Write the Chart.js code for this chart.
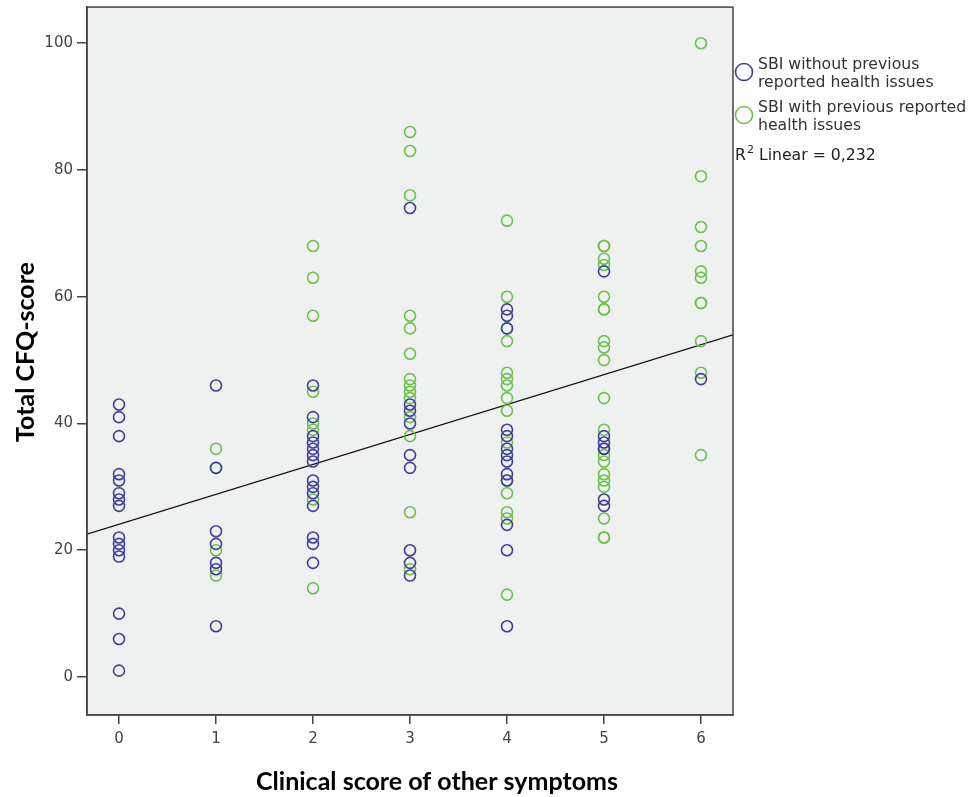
<!DOCTYPE html>
<html lang="en">
<head>
  <meta charset="UTF-8">
  <title>CFQ score vs clinical score</title>
  <style>
    html, body { margin: 0; padding: 0; background: #fff; }
    #wrap { width: 972px; height: 797px; }
  </style>
</head>
<body>
  <div id="wrap"><canvas id="chart"></canvas></div>

  <script src="https://cdn.jsdelivr.net/npm/chart.js@4"></script>
  <script>
    // values
    const xTicks = [0, 1, 2, 3, 4, 5, 6];
    const yTicks = [0, 20, 40, 60, 80, 100];

    // SBI without previous reported health issues (blue)
    const withoutX = [
      0, 0, 0, 0, 0, 0, 0, 0, 0, 0, 0, 0, 0, 0, 0,
      1, 1, 1, 1, 1, 1, 1,
      2, 2, 2, 2, 2, 2, 2, 2, 2, 2, 2, 2, 2, 2,
      3, 3, 3, 3, 3, 3, 3, 3, 3,
      4, 4, 4, 4, 4, 4, 4, 4, 4, 4, 4, 4, 4,
      5, 5, 5, 5, 5, 5, 5,
      6
    ];
    const withoutY = [
      43, 41, 38, 32, 31, 29, 28, 27, 22, 21, 20, 19, 10, 6, 1,
      46, 33, 23, 21, 18, 17, 8,
      46, 41, 38, 37, 36, 35, 34, 31, 30, 29, 27, 22, 21, 18,
      74, 43, 42, 40, 35, 33, 20, 18, 16,
      58, 57, 55, 39, 38, 36, 35, 34, 32, 24, 20, 8, 31,
      64, 38, 37, 36, 36, 28, 27,
      47
    ];

    // SBI with previous reported health issues (green)
    const withX = [
      1, 1, 1, 1,
      2, 2, 2, 2, 2, 2, 2, 2,
      3, 3, 3, 3, 3, 3, 3, 3, 3, 3, 3, 3, 3, 3,
      4, 4, 4, 4, 4, 4, 4, 4, 4, 4, 4, 4, 4, 4, 4,
      5, 5, 5, 5, 5, 5, 5, 5, 5, 5, 5, 5, 5, 5, 5, 5, 5, 5, 5, 5,
      6, 6, 6, 6, 6, 6, 6, 6, 6, 6, 6
    ];
    const withY = [
      36, 33, 20, 16,
      68, 63, 57, 45, 40, 39, 28, 14,
      86, 83, 76, 57, 55, 51, 47, 46, 45, 44, 41, 38, 26, 17,
      72, 60, 55, 53, 48, 47, 46, 44, 42, 37, 31, 29, 26, 25, 13,
      68, 68, 66, 65, 60, 58, 58, 53, 52, 50, 44, 39, 35, 34, 32, 31, 30, 25, 22, 22,
      100, 79, 71, 68, 64, 63, 59, 59, 53, 48, 35
    ];

    // fit line as printed
    const regIntercept = 24.1;
    const regSlope = 4.72;
    const xMin = -0.33, xMax = 6.33;
    const yMin = -6, yMax = 105.7;

    const seriesLabels = ['SBI without previous\nreported health issues', 'SBI with previous reported\nhealth issues'];
    const fitLabel = ['R', '2', ' Linear = 0,232'];
    const xTitle = 'Clinical score of other symptoms';
    const yTitle = 'Total CFQ-score';

    const BLUE = '#3f3f98';
    const GREEN = '#6cc04c';
    const FRAME = '#444';

    const toPts = (xs, ys) => xs.map((x, i) => ({ x: x, y: ys[i] }));

    // plot background, top/right frame, axis titles and the legend on the right
    const plotDecor = {
      id: 'plotDecor',
      beforeDraw(chart) {
        const { ctx, chartArea: a } = chart;
        ctx.save();
        ctx.fillStyle = '#eff0f0';
        ctx.fillRect(a.left, a.top, a.right - a.left, a.bottom - a.top);
        ctx.restore();
      },
      afterDraw(chart) {
        const { ctx, chartArea: a } = chart;
        ctx.save();
        ctx.strokeStyle = FRAME;
        ctx.lineWidth = 1.5;
        ctx.strokeRect(a.left, a.top, a.right - a.left, a.bottom - a.top);

        // axis titles (SPSS puts them a bit off the plot centre)
        ctx.fillStyle = '#000';
        ctx.font = 'bold 25px Lato';
        ctx.textAlign = 'center';
        ctx.textBaseline = 'middle';
        ctx.fillText(xTitle, 437, 782);
        ctx.save();
        ctx.translate(26, 352);
        ctx.rotate(-Math.PI / 2);
        ctx.fillText(yTitle, 0, 0);
        ctx.restore();

        // legend
        const colors = [BLUE, GREEN];
        const tops = [65, 108];
        ctx.font = '15.7px "DejaVu Sans"';
        ctx.textAlign = 'left';
        seriesLabels.forEach((lab, i) => {
          ctx.beginPath();
          ctx.lineWidth = 1.6;
          ctx.strokeStyle = colors[i];
          ctx.arc(744, tops[i] + 7, 8.5, 0, Math.PI * 2);
          ctx.stroke();
          ctx.fillStyle = '#333';
          lab.split('\n').forEach((line, j) => ctx.fillText(line, 758, tops[i] + j * 18));
        });
        ctx.fillStyle = '#222';
        let x = 735;
        ctx.fillText(fitLabel[0], x, 156);
        x += ctx.measureText(fitLabel[0]).width;
        ctx.font = '11px "DejaVu Sans"';
        ctx.fillText(fitLabel[1], x + 1, 150);
        x += ctx.measureText(fitLabel[1]).width + 1;
        ctx.font = '15.7px "DejaVu Sans"';
        ctx.fillText(fitLabel[2], x, 156);
        ctx.restore();
      }
    };

    new Chart(document.getElementById('chart'), {
      type: 'scatter',
      data: {
        datasets: [
          {
            label: 'without',
            data: toPts(withoutX, withoutY),
            borderColor: BLUE,
            backgroundColor: 'rgba(0,0,0,0)',
            pointRadius: 5.5,
            borderWidth: 1.6
          },
          {
            label: 'with',
            data: toPts(withX, withY),
            borderColor: GREEN,
            backgroundColor: 'rgba(0,0,0,0)',
            pointRadius: 5.5,
            borderWidth: 1.6
          },
          {
            type: 'line',
            label: 'fit',
            data: [
              { x: xMin, y: regIntercept + regSlope * xMin },
              { x: xMax, y: regIntercept + regSlope * xMax }
            ],
            borderColor: '#111',
            borderWidth: 1.3,
            pointRadius: 0,
            fill: false
          }
        ]
      },
      options: {
        responsive: true,
        maintainAspectRatio: false,
        animation: false,
        layout: { padding: { top: 7, right: 239, left: 0, bottom: 0 } },
        plugins: {
          legend: { display: false },
          tooltip: { enabled: false }
        },
        scales: {
          x: {
            type: 'linear',
            min: xMin,
            max: xMax,
            afterFit: s => { s.height = 82; s.paddingLeft = 0; s.paddingRight = 0; },
            afterBuildTicks: s => { s.ticks = xTicks.map(v => ({ value: v })); },
            grid: { drawOnChartArea: false, drawTicks: true, tickLength: 9, color: FRAME, lineWidth: 1.5 },
            border: { display: true, color: FRAME, width: 1.5 },
            ticks: { color: '#444', padding: 6, font: { family: 'DejaVu Sans', size: 15 } },
            title: { display: false, text: xTitle }
          },
          y: {
            type: 'linear',
            min: yMin,
            max: yMax,
            afterFit: s => { s.width = 87; s.paddingTop = 0; s.paddingBottom = 0; },
            afterBuildTicks: s => { s.ticks = yTicks.map(v => ({ value: v })); },
            grid: { drawOnChartArea: false, drawTicks: true, tickLength: 10, color: FRAME, lineWidth: 1.5 },
            border: { display: true, color: FRAME, width: 1.5 },
            ticks: { color: '#444', padding: 4, font: { family: 'DejaVu Sans', size: 15 } },
            title: { display: false, text: yTitle }
          }
        }
      },
      plugins: [plotDecor]
    });
  </script>
</body>
</html>
